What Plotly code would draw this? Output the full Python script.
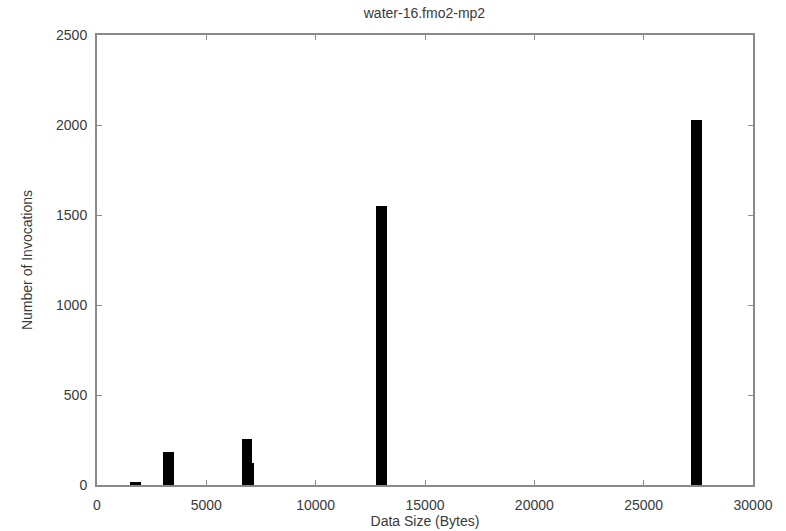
import plotly.graph_objects as go

# Data
sizes = [1740, 3250, 6920, 6860, 13030, 27410]
invocations = [15, 185, 122, 256, 1552, 2030]
bar_width = 500

x_ticks = [0, 5000, 10000, 15000, 20000, 25000, 30000]
y_ticks = [0, 500, 1000, 1500, 2000, 2500]

fig = go.Figure()
fig.add_trace(go.Bar(
    x=sizes, y=invocations, width=[bar_width] * len(sizes),
    marker=dict(color="black", line=dict(width=0)),
    showlegend=False,
))

FAM = "Liberation Sans, Arial, sans-serif"
font = dict(family=FAM, size=14, color="#3a3a3a")
axis_common = dict(
    showline=True, linecolor="#8a8a8a", linewidth=2, mirror="ticks",
    ticks="inside", ticklen=5, tickcolor="#8a8a8a", tickwidth=1,
    showgrid=False, zeroline=False, tickfont=font, automargin=False,
)

fig.update_layout(
    width=786, height=531,
    margin=dict(l=97, r=33, t=35, b=46),
    paper_bgcolor="white", plot_bgcolor="white",
    font=font,
    bargap=0, barmode="overlay",
    title=dict(text="water-16.fmo2-mp2", x=0.54, xanchor="center", y=0.975, yanchor="middle",
               font=dict(size=14, color="#3a3a3a", family=FAM)),
    xaxis=dict(range=[0, 30000], tickvals=x_ticks, ticktext=[str(v) for v in x_ticks],
               ticklabelstandoff=6,
               title=dict(text="Data Size (Bytes)", font=font, standoff=4), **axis_common),
    yaxis=dict(range=[0, 2500], tickvals=y_ticks, ticktext=[str(v) for v in y_ticks],
               ticklabelstandoff=5,
               title=dict(text="Number of Invocations", font=font, standoff=20), **axis_common),
)

fig.write_html("out.html")
